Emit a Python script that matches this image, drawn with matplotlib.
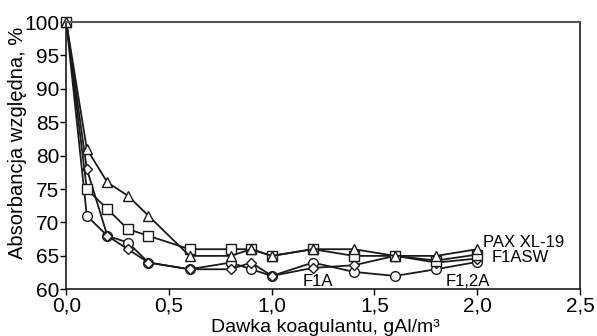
import matplotlib
matplotlib.use("Agg")
import matplotlib.pyplot as plt
from matplotlib.ticker import FuncFormatter

plt.rcParams['font.family'] = ['Liberation Sans', 'DejaVu Sans']

# dawka koagulantu, gAl/m3
dose = [0.0, 0.1, 0.2, 0.3, 0.4, 0.6, 0.8, 0.9, 1.0, 1.2, 1.4, 1.6, 1.8, 2.0]

# absorbancja wzgledna, %
pax_xl19 = [100, 81, 76, 74, 71, 65, 65, 66, 65, 66, 66, 65, 65, 66]
f1asw = [100, 75, 72, 69, 68, 66, 66, 66, 65, 66, 65, 65, 64.3, 65.2]
f1a = [100, 78, 68, 66, 64, 63, 63, 64, 62, 63.2, 63.6, 65, 64, 64.6]
f12a = [100, 71, 68, 67, 64, 63, 64, 63, 62, 64, 62.6, 62, 63, 64.1]

xticks = [0.0, 0.5, 1.0, 1.5, 2.0, 2.5]
yticks = [60, 65, 70, 75, 80, 85, 90, 95, 100]

fig = plt.figure(figsize=(5.97, 3.36), dpi=100)
ax = fig.add_axes([0.111, 0.139, 0.8605, 0.7955])

style = dict(color='#1a1a1a', linewidth=1.3, markerfacecolor='white',
             markeredgecolor='#1a1a1a', markeredgewidth=1.0, clip_on=False)
ax.plot(dose, f12a, marker='o', markersize=7, **style)
ax.plot(dose, f1a, marker='D', markersize=5, **style)
ax.plot(dose, f1asw, marker='s', markersize=6.5, **style)
ax.plot(dose, pax_xl19, marker='^', markersize=7, **style)

ax.set_xlim(0, 2.5)
ax.set_ylim(60, 100)
ax.set_xticks(xticks)
ax.set_yticks(yticks)
ax.xaxis.set_major_formatter(FuncFormatter(lambda v, p: f"{v:.1f}".replace('.', ',')))
ax.tick_params(direction='out', length=4, width=1, labelsize=15, pad=1)

for s in ['left', 'bottom', 'right']:
    ax.spines[s].set_linewidth(1.2)
    ax.spines[s].set_color('#1a1a1a')
ax.spines['top'].set_color('#555555')
ax.spines['top'].set_linewidth(1.5)

ax.set_xlabel("Dawka koagulantu, gAl/m³", fontsize=14)
ax.set_ylabel("Absorbancja względna, %", fontsize=14.5)
ax.xaxis.set_label_coords(0.5036, -0.112)
ax.yaxis.set_label_coords(-0.076, 0.547)

ax.text(2.03, 67.0, "PAX XL-19", fontsize=12, ha='left', va='center')
ax.text(2.07, 64.7, "F1ASW", fontsize=12, ha='left', va='center')
ax.text(1.225, 61.1, "F1A", fontsize=12, ha='center', va='center')
ax.text(1.955, 61.1, "F1,2A", fontsize=12, ha='center', va='center')

fig.savefig("out.png", dpi=100)
